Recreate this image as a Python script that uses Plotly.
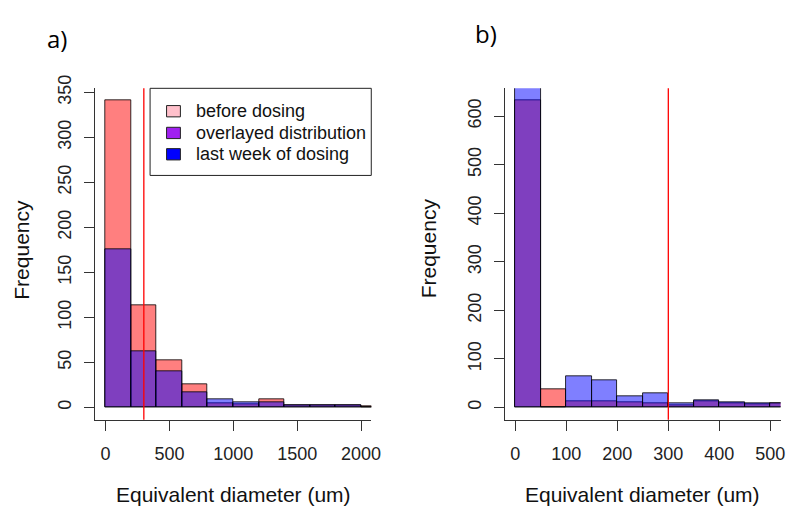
import plotly.graph_objects as go

W, H = 795, 507

# ---------------- data ----------------
# panel a: bins of 200 um starting at 0
a_bin_width = 200
a_before = [341, 114, 52, 26, 5, 4, 9, 2, 3, 2, 1]
a_last = [176, 63, 40, 17, 9, 6, 6, 2, 3, 2, 0]
a_xticks = [0, 500, 1000, 1500, 2000]
a_yticks = [0, 50, 100, 150, 200, 250, 300, 350]

# panel b: bins of 50 um starting at 0
b_bin_width = 50
b_before = [632, 37, 13, 13, 11, 9, 4, 13, 9, 6, 8]
b_last = [690, 0, 64, 57, 23, 29, 8, 14, 11, 8, 8]
b_xticks = [0, 100, 200, 300, 400, 500]
b_yticks = [0, 100, 200, 300, 400, 500, 600]

threshold = 300
legend_labels = ["before dosing", "overlayed distribution", "last week of dosing"]
legend_colors = ["#FFC0CB", "#A020F0", "#0000FF"]

RED = "rgba(255,0,0,0.5)"
BLUE = "rgba(0,0,255,0.5)"
EDGE = "rgba(0,0,0,0.8)"
FONT = "Liberation Sans, Arial, sans-serif"

def px_x(p):
    return p / W

def px_y(p):
    return 1 - p / H

a_dom_x = [px_x(96.5), px_x(376.0)]
b_dom_x = [px_x(511.5), px_x(790.5)]
dom_y = [px_y(417.5), px_y(77.3)]

fig = go.Figure()

def add_hist(before, last, bw, xa, ya):
    n = len(before)
    centers = [bw * i + bw / 2 for i in range(n)]
    fig.add_trace(go.Bar(x=centers, y=before, width=[bw] * n,
                         marker=dict(color=RED, line=dict(color=EDGE, width=1)),
                         xaxis=xa, yaxis=ya, showlegend=False, hoverinfo="skip"))
    fig.add_trace(go.Bar(x=centers, y=last, width=[bw] * n,
                         marker=dict(color=BLUE, line=dict(color=EDGE, width=1)),
                         xaxis=xa, yaxis=ya, showlegend=False, hoverinfo="skip"))

add_hist(a_before, a_last, a_bin_width, "x", "y")
add_hist(b_before, b_last, b_bin_width, "x2", "y2")

a_ymax = max(a_before)
b_ymax = max(b_before)
a_xr = [-0.04 * 2000, 1.04 * 2000]
b_xr = [-0.04 * 500, 1.04 * 500]
a_yr = [-0.04 * a_ymax, 1.04 * a_ymax]
b_yr = [-0.04 * b_ymax, 1.04 * b_ymax]

tickfont = dict(family=FONT, size=18, color="#222222")
common_axis = dict(showgrid=False, zeroline=False, showline=True, linecolor="#333333",
                   linewidth=1, ticks="outside",
                   ticklen=10, tickwidth=1, tickcolor="#333333", tickfont=tickfont,
                   fixedrange=True)

fig.update_layout(
    width=W, height=H, margin=dict(l=0, r=0, t=0, b=0),
    paper_bgcolor="white", plot_bgcolor="white",
    barmode="overlay", bargap=0,
    showlegend=False,
    xaxis=dict(domain=a_dom_x, range=a_xr, tickvals=a_xticks, anchor="y",
               ticklabelstandoff=8, **common_axis),
    yaxis=dict(domain=dom_y, range=a_yr, tickvals=a_yticks, anchor="x",
               tickangle=-90, ticklabelstandoff=6, **common_axis),
    xaxis2=dict(domain=b_dom_x, range=b_xr, tickvals=b_xticks, anchor="y2",
                ticklabelstandoff=8, **common_axis),
    yaxis2=dict(domain=dom_y, range=b_yr, tickvals=b_yticks, anchor="x2",
                tickangle=-90, ticklabelstandoff=6, **common_axis),
)

shapes = []
# threshold lines
shapes.append(dict(type="line", xref="x", yref="paper", x0=threshold, x1=threshold,
                   y0=dom_y[0], y1=dom_y[1], line=dict(color="red", width=1.3)))
shapes.append(dict(type="line", xref="x2", yref="paper", x0=threshold, x1=threshold,
                   y0=dom_y[0], y1=dom_y[1], line=dict(color="red", width=1.3)))

# legend box (panel a, top right)
shapes.append(dict(type="rect", xref="paper", yref="paper",
                   x0=px_x(152), x1=px_x(376), y0=px_y(166.7), y1=px_y(77.3),
                   line=dict(color="#222222", width=1), fillcolor="white"))
annotations = []
row_y = [100.8, 123.1, 145.0]
for lbl, col, ry in zip(legend_labels, legend_colors, row_y):
    shapes.append(dict(type="rect", xref="paper", yref="paper",
                       x0=px_x(168.7), x1=px_x(182.7), y0=px_y(ry + 5.8), y1=px_y(ry - 5.8),
                       line=dict(color="#222222", width=1), fillcolor=col))
    annotations.append(dict(text=lbl, xref="paper", yref="paper", x=px_x(196.5), y=px_y(ry),
                            xanchor="left", yanchor="middle", showarrow=False,
                            font=dict(family=FONT, size=18, color="#111111")))

title_font = dict(family=FONT, size=21, color="#111111")
for dom in (a_dom_x, b_dom_x):
    annotations.append(dict(text="Equivalent diameter (um)", xref="paper", yref="paper",
                            x=(dom[0] + dom[1]) / 2, y=px_y(494), xanchor="center",
                            yanchor="middle", showarrow=False, font=title_font))
annotations.append(dict(text="Frequency", xref="paper", yref="paper", x=px_x(21.7),
                        y=px_y(242.5), textangle=-90, xanchor="center", yanchor="middle",
                        showarrow=False, font=title_font))
annotations.append(dict(text="Frequency", xref="paper", yref="paper", x=px_x(434),
                        y=px_y(242), textangle=-90, xanchor="center", yanchor="middle",
                        showarrow=False, font=title_font))
panel_font = dict(family="Open Sans, sans-serif", size=24, color="#000000")
annotations.append(dict(text="a)", xref="paper", yref="paper", x=px_x(57.8), y=px_y(26),
                        xanchor="center", yanchor="middle", showarrow=False, font=panel_font))
annotations.append(dict(text="b)", xref="paper", yref="paper", x=px_x(492.5), y=px_y(21.5),
                        xanchor="center", yanchor="middle", showarrow=False, font=panel_font))

fig.update_layout(shapes=shapes, annotations=annotations)
fig.write_html("out.html")
